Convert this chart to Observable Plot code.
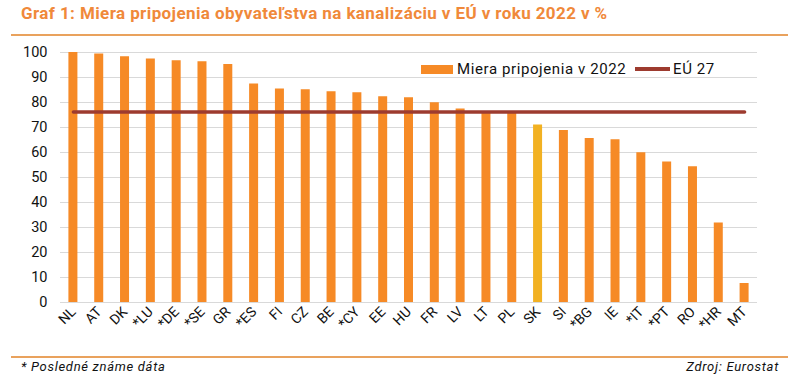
<!DOCTYPE html>
<html>
<head>
<meta charset="utf-8">
<script src="https://cdn.jsdelivr.net/npm/d3@7"></script>
<script src="https://cdn.jsdelivr.net/npm/@observablehq/plot@0.6"></script>
<style>
  body { margin: 0; background: #fff; }
  #wrap { position: relative; width: 798px; height: 380px; font-family: Roboto, "Liberation Sans", sans-serif; overflow: hidden; }
  .title { position: absolute; left: 21px; top: 3px; font-size: 17px; letter-spacing: 0.4px; font-weight: bold; color: #f0893a; white-space: nowrap; }
  .rule { position: absolute; left: 11px; width: 777px; height: 1.5px; background: #e9a25d; }
  #chart { position: absolute; left: 0; top: 40px; }
  .legend { position: absolute; top: 60px; font-size: 15px; letter-spacing: 0.6px; color: #111; display: flex; align-items: center; white-space: nowrap; }
  .foot { position: absolute; top: 359px; font-size: 13px; letter-spacing: 0.7px; font-style: italic; color: #111; white-space: nowrap; }
</style>
</head>
<body>
<div id="wrap">
  <div class="title">Graf 1: Miera pripojenia obyvateľstva na kanalizáciu v EÚ v roku 2022 v %</div>
  <div class="rule" style="top:34px"></div>
  <div id="chart"></div>
  <div class="legend" style="left:421px">
    <span style="display:inline-block;width:32px;height:9px;background:#f68a26;margin-right:4px"></span>Miera pripojenia v 2022
  </div>
  <div class="legend" style="left:635px">
    <span style="display:inline-block;width:35px;height:3.5px;background:#9d3b2f;margin-right:3px"></span>EÚ 27
  </div>
  <div class="rule" style="top:356px"></div>
  <div class="foot" style="left:21px">* Posledné známe dáta</div>
  <div class="foot" style="right:19px">Zdroj: Eurostat</div>
</div>
<script>
const countries = ["NL","AT","DK","*LU","*DE","*SE","GR","*ES","FI","CZ","BE","*CY","EE","HU","FR","LV","LT","PL","SK","SI","*BG","IE","*IT","*PT","RO","*HR","MT"];
const values = [100,99.4,98.3,97.4,96.7,96.3,95.2,87.4,85.4,85.1,84.3,83.9,82.3,81.9,79.9,77.4,76.0,75.9,71.0,68.8,65.6,65.1,59.9,56.2,54.3,31.8,7.6];
const euValue = 76.2;
const highlight = "SK";
const yTicks = [0,10,20,30,40,50,60,70,80,90,100];

const data = countries.map((c, i) => ({country: c, value: values[i]}));

const W = 798, ML = 60, MR = 41;
const step = (W - ML - MR) / countries.length;
const inset = (step - 9) / 2;

const chart = Plot.plot({
  width: W,
  height: 310,
  marginTop: 12,
  marginBottom: 48,
  marginLeft: ML,
  marginRight: MR,
  style: {fontFamily: "Roboto, 'Liberation Sans', sans-serif", color: "#111", background: "transparent"},
  x: {domain: countries, padding: 0, round: false, label: null},
  y: {domain: [0, 100], label: null},
  marks: [
    Plot.gridY(yTicks, {stroke: "#d9d9d9", strokeOpacity: 1, strokeWidth: 1}),
    Plot.barY(data.filter(d => d.country !== highlight), {x: "country", y: "value", fill: "#f68a26", insetLeft: inset, insetRight: inset}),
    Plot.barY(data.filter(d => d.country === highlight), {x: "country", y: "value", fill: "#f2b122", insetLeft: inset, insetRight: inset}),
    Plot.lineY(data, {x: "country", y: () => euValue, stroke: "#9d3b2f", strokeWidth: 3.5}),
    Plot.axisY({ticks: yTicks, tickSize: 0, tickPadding: 13, fontSize: 14.5, label: null}),
    Plot.axisX({tickSize: 0, tickPadding: 7, tickRotate: -45, fontSize: 14, label: null})
  ]
});
document.getElementById("chart").appendChild(chart);
</script>
</body>
</html>
